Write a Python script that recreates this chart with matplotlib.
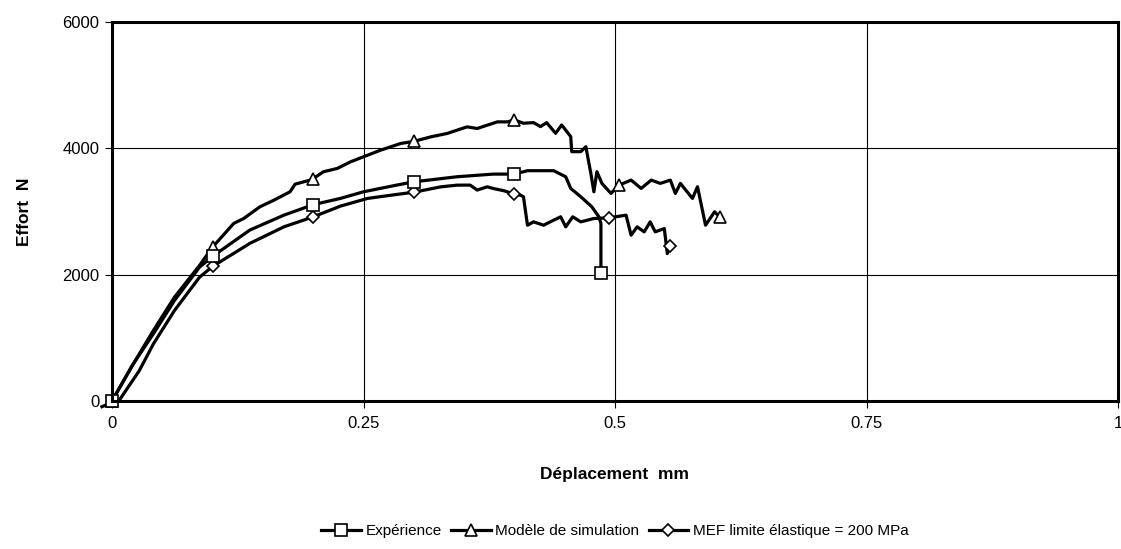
import numpy as np
import matplotlib.pyplot as plt

plt.rcParams['font.family'] = ['Liberation Sans', 'DejaVu Sans']

# Expérience (squares)
x_exp = [0, 0.020, 0.041, 0.062, 0.087, 0.100, 0.137, 0.171, 0.200, 0.227, 0.250, 0.283,
         0.300, 0.343, 0.379, 0.400, 0.413, 0.439, 0.451, 0.456, 0.466, 0.477, 0.484,
         0.486, 0.486]
y_exp = [0, 560, 1060, 1589, 2119, 2290, 2706, 2943, 3108, 3207, 3312, 3418,
         3470, 3550, 3592, 3592, 3646, 3646, 3550, 3365, 3233, 3074, 2916,
         2810, 2027]
mark_exp = [0, 0.100, 0.200, 0.300, 0.400, 0.486]

# Modèle de simulation (triangles)
x_sim = [0, 0.023, 0.041, 0.062, 0.087, 0.100, 0.121, 0.131, 0.147, 0.161, 0.177, 0.182,
         0.197, 0.200, 0.210, 0.224, 0.237, 0.250, 0.267, 0.287, 0.300, 0.317, 0.333,
         0.353, 0.363, 0.383, 0.393, 0.400, 0.409, 0.419, 0.426, 0.432, 0.441, 0.447,
         0.456, 0.457, 0.466, 0.471, 0.476, 0.479, 0.482, 0.487, 0.496, 0.504, 0.516,
         0.526, 0.536, 0.545, 0.555, 0.560, 0.565, 0.577, 0.582, 0.590, 0.599, 0.604]
y_sim = [0, 636, 1113, 1642, 2146, 2437, 2811, 2890, 3074, 3180, 3312, 3433,
         3497, 3520, 3628, 3682, 3786, 3866, 3971, 4077, 4110, 4182, 4235,
         4340, 4314, 4419, 4419, 4450, 4397, 4407, 4344, 4407, 4238, 4370,
         4185, 3947, 3947, 4026, 3603, 3312, 3630, 3445, 3286, 3418, 3497,
         3365, 3497, 3445, 3497, 3286, 3445, 3207, 3392, 2783, 2995, 2916]
mark_sim = [0, 0.100, 0.200, 0.300, 0.400, 0.504, 0.604]

# MEF limite élastique = 200 MPa (diamonds)
x_mef = [-0.010, 0.008, 0.027, 0.041, 0.062, 0.087, 0.100, 0.137, 0.171, 0.200, 0.227,
         0.254, 0.283, 0.300, 0.327, 0.343, 0.356, 0.363, 0.373, 0.379, 0.390, 0.400,
         0.406, 0.409, 0.413, 0.419, 0.429, 0.439, 0.446, 0.451, 0.458, 0.466, 0.479,
         0.494, 0.511, 0.516, 0.522, 0.529, 0.535, 0.540, 0.549, 0.552, 0.555]
y_mef = [-90, 30, 477, 900, 1430, 1960, 2130, 2495, 2758, 2915, 3085,
         3207, 3270, 3305, 3391, 3417, 3418, 3339, 3391, 3364, 3327, 3274,
         3259, 3233, 2783, 2836, 2783, 2863, 2916, 2757, 2916, 2836, 2889,
         2900, 2942, 2625, 2757, 2678, 2836, 2678, 2730, 2334, 2450]
mark_mef = [0.100, 0.200, 0.300, 0.400, 0.494, 0.555]

xticks = [0, 0.25, 0.5, 0.75, 1]
xticklabels = ['0', '0.25', '0.5', '0.75', '1']
yticks = [0, 2000, 4000, 6000]


def mark_idx(xs, marks):
    # last occurrence of each marked x value
    return [len(xs) - 1 - xs[::-1].index(m) for m in marks]


fig = plt.figure(figsize=(11.21, 5.49), dpi=100)
ax = fig.add_axes([112/1121, 1-401/549, 1006/1121, 379/549])

style = dict(color='black', lw=2.3, mfc='white', mec='black', mew=1.2, clip_on=False)
ax.plot(x_mef, y_mef, marker='D', ms=6.5, markevery=mark_idx(x_mef, mark_mef),
        label='MEF limite élastique = 200 MPa', **style)
ax.plot(x_sim, y_sim, marker='^', ms=9, markevery=mark_idx(x_sim, mark_sim),
        label='Modèle de simulation', **style)
ax.plot(x_exp, y_exp, marker='s', ms=9, markevery=mark_idx(x_exp, mark_exp),
        label='Expérience', **style)

ax.set_xlim(0, 1)
ax.set_ylim(0, 6000)
ax.set_xticks(xticks)
ax.set_xticklabels(xticklabels)
ax.set_yticks(yticks)
ax.grid(True, color='black', lw=0.8)
ax.set_axisbelow(True)
for s in ax.spines.values():
    s.set_linewidth(2.2)
ax.tick_params(direction='out', length=5, width=0.8, labelsize=12)
ax.tick_params(axis='x', pad=6)
ax.tick_params(axis='y', pad=4)

ax.set_xlabel('Déplacement  mm', fontsize=12.5, fontweight='bold', labelpad=26)
ax.set_ylabel('Effort  N', fontsize=12.5, fontweight='bold', labelpad=22)

h, l = ax.get_legend_handles_labels()
order = [2, 1, 0]
fig.legend([h[i] for i in order], [l[i] for i in order], loc='center',
           bbox_to_anchor=(615/1121, 1-531/549), ncol=3, frameon=False,
           fontsize=11, handlelength=2.6, columnspacing=0.6, handletextpad=0.3)

fig.savefig('out.png', dpi=100)
